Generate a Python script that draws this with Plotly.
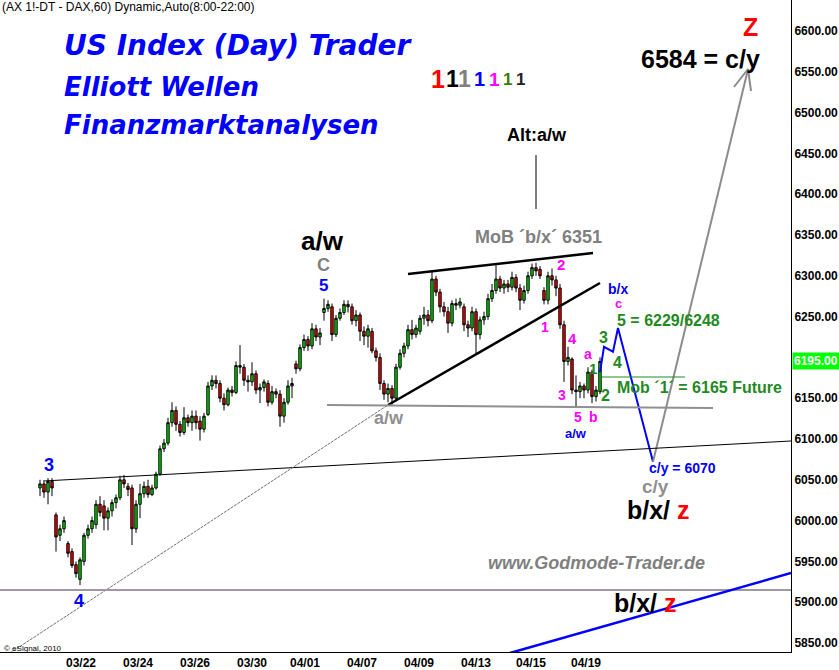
import plotly.graph_objects as go

# ---------------- data ----------------
bar_index = list(range(141))
opens = [6040, 6045, 6035, 6048, 6007, 5982, 5990, 5972, 5962, 5946,
         5928, 5950, 5982, 5990, 5995, 6020, 6018, 6003, 6012, 6022,
         6028, 6050, 6042, 6040, 5990, 6020, 6033, 6042, 6032, 6040,
         6057, 6088, 6095, 6120, 6135, 6118, 6108, 6126, 6120, 6128,
         6122, 6112, 6130, 6165, 6172, 6168, 6150, 6142, 6160, 6157,
         6190, 6188, 6172, 6170, 6180, 6160, 6163, 6168, 6145, 6158,
         6155, 6128, 6145, 6165, 6192, 6186, 6212, 6222, 6214, 6235,
         6225, 6255, 6260, 6262, 6228, 6248, 6255, 6265, 6262, 6245,
         6252, 6232, 6226, 6232, 6208, 6200, 6168, 6155, 6162, 6150,
         6188, 6205, 6214, 6234, 6228, 6232, 6248, 6252, 6245, 6296,
         6280, 6262, 6256, 6242, 6266, 6264, 6262, 6240, 6236, 6256,
         6228, 6246, 6250, 6272, 6282, 6296, 6285, 6290, 6286, 6298,
         6285, 6270, 6282, 6300, 6310, 6308, 6282, 6270, 6300, 6295,
         6285, 6240, 6195, 6198, 6160, 6158, 6165, 6160, 6182, 6152,
         6158]
highs = [6050, 6048, 6052, 6052, 6010, 5995, 6005, 5975, 5966, 5950,
         5955, 5985, 5995, 6005, 6025, 6030, 6025, 6016, 6026, 6032,
         6055, 6056, 6046, 6044, 6025, 6045, 6048, 6050, 6044, 6060,
         6092, 6100, 6126, 6145, 6140, 6122, 6139, 6130, 6135, 6135,
         6128, 6132, 6170, 6178, 6178, 6172, 6156, 6163, 6165, 6195,
         6215, 6192, 6178, 6194, 6184, 6168, 6173, 6172, 6165, 6162,
         6160, 6150, 6172, 6175, 6196, 6216, 6228, 6226, 6242, 6240,
         6236, 6272, 6270, 6266, 6252, 6260, 6270, 6270, 6266, 6258,
         6255, 6238, 6240, 6236, 6212, 6205, 6172, 6168, 6166, 6192,
         6210, 6218, 6240, 6246, 6240, 6252, 6262, 6258, 6305, 6300,
         6284, 6268, 6262, 6270, 6272, 6273, 6266, 6245, 6262, 6260,
         6250, 6256, 6278, 6290, 6313, 6300, 6295, 6295, 6305, 6302,
         6290, 6288, 6305, 6315, 6316, 6312, 6286, 6305, 6309, 6300,
         6290, 6245, 6213, 6200, 6178, 6170, 6168, 6188, 6185, 6165,
         6200]
lows = [6030, 6028, 6020, 6030, 5962, 5975, 5985, 5955, 5942, 5930,
        5921, 5945, 5978, 5985, 5990, 6005, 5988, 5988, 6005, 6015,
        6025, 6040, 6030, 5970, 5985, 6003, 6028, 6028, 6030, 6038,
        6055, 6084, 6092, 6115, 6110, 6103, 6105, 6115, 6110, 6112,
        6098, 6108, 6128, 6160, 6162, 6145, 6135, 6140, 6152, 6155,
        6180, 6165, 6158, 6165, 6155, 6144, 6158, 6140, 6142, 6150,
        6115, 6120, 6142, 6150, 6180, 6183, 6208, 6208, 6210, 6220,
        6215, 6245, 6256, 6220, 6225, 6245, 6252, 6255, 6240, 6238,
        6220, 6215, 6212, 6205, 6195, 6160, 6148, 6145, 6142, 6146,
        6185, 6200, 6210, 6222, 6224, 6228, 6240, 6238, 6242, 6275,
        6255, 6250, 6230, 6238, 6258, 6260, 6232, 6225, 6232, 6205,
        6222, 6240, 6246, 6268, 6278, 6280, 6278, 6280, 6282, 6280,
        6258, 6266, 6278, 6296, 6300, 6296, 6265, 6265, 6288, 6275,
        6235, 6170, 6190, 6155, 6140, 6150, 6150, 6156, 6144, 6146,
        6155]
closes = [6045, 6035, 6048, 6040, 5980, 5990, 6000, 5960, 5945, 5935,
          5952, 5982, 5990, 6000, 6020, 6010, 6003, 6012, 6022, 6028,
          6050, 6045, 6038, 5990, 6020, 6033, 6042, 6032, 6040, 6057,
          6088, 6095, 6120, 6135, 6118, 6108, 6126, 6120, 6128, 6120,
          6112, 6128, 6165, 6172, 6168, 6150, 6142, 6160, 6157, 6190,
          6188, 6172, 6170, 6180, 6160, 6163, 6170, 6145, 6158, 6155,
          6128, 6145, 6165, 6168, 6186, 6212, 6222, 6214, 6235, 6225,
          6230, 6260, 6265, 6228, 6248, 6255, 6265, 6262, 6245, 6252,
          6232, 6226, 6235, 6208, 6200, 6168, 6155, 6162, 6150, 6188,
          6205, 6214, 6234, 6228, 6236, 6248, 6252, 6245, 6296, 6280,
          6262, 6256, 6242, 6266, 6264, 6268, 6240, 6236, 6256, 6228,
          6246, 6250, 6272, 6282, 6296, 6285, 6290, 6286, 6298, 6285,
          6270, 6282, 6300, 6310, 6306, 6300, 6270, 6300, 6295, 6285,
          6240, 6195, 6200, 6160, 6158, 6165, 6160, 6182, 6152, 6160,
          6195]

tick_labels = ["03/22", "03/24", "03/26", "03/30", "04/01",
               "04/07", "04/09", "04/13", "04/15", "04/19"]
tick_bars = [10.25, 24.5, 38.75, 53, 66.25, 80.5, 94.75, 109, 122.75, 136.5]
# 6200 is hidden behind the current-price marker in the reference
price_ticks = [5850, 5900, 5950, 6000, 6050, 6100, 6150, 6250,
               6300, 6350, 6400, 6450, 6500, 6550, 6600]
last_price = 6195.0

# projected wave path (bar index, price)
proj_bars = [140, 141, 143.25, 144.5, 153.25]
proj_prices = [6182, 6213, 6207, 6236, 6072]
target_bars = [153.25, 177]
target_prices = [6072, 6553]

# ---------------- helpers: reference pixel -> data ----------------
def X(px):
    return (px - 40) / 4.0

def Y(py):
    return 6600 - (py - 31) / 0.816

fig = go.Figure()
fig.add_trace(go.Candlestick(
    x=bar_index, open=opens, high=highs, low=lows, close=closes,
    increasing=dict(line=dict(color="black", width=1), fillcolor="#00dd00"),
    decreasing=dict(line=dict(color="black", width=1), fillcolor="#ff0000"),
    whiskerwidth=0, hoverinfo="skip", showlegend=False))

# projection lines
fig.add_trace(go.Scatter(x=proj_bars, y=proj_prices, mode="lines",
                         line=dict(color="#0000ff", width=2), showlegend=False, hoverinfo="skip"))
fig.add_trace(go.Scatter(x=target_bars, y=target_prices, mode="lines",
                         line=dict(color="#8c8c8c", width=2), showlegend=False, hoverinfo="skip"))
# arrow head
fig.add_trace(go.Scatter(x=[X(734), X(748), X(751)], y=[Y(87), Y(69), Y(91)], mode="lines",
                         line=dict(color="#8c8c8c", width=2), showlegend=False, hoverinfo="skip"))

shapes = []
def seg(x0, y0, x1, y1, color, width, dash=None):
    d = dict(type="line", xref="x", yref="y", x0=X(x0), y0=Y(y0), x1=X(x1), y1=Y(y1),
             line=dict(color=color, width=width))
    if dash:
        d["line"]["dash"] = dash
    shapes.append(d)

seg(43, 481, 791, 441, "black", 1)                 # wave-3 line
seg(10, 653, 388, 405, "#707070", 1, "3px,1px")    # thin gray trend
seg(388, 405, 600, 283, "black", 2.5)              # lower wedge line
seg(408, 274, 593, 253, "black", 2.5)              # upper wedge line
seg(327, 405, 713, 408, "#909090", 2)              # a/w horizontal
seg(0, 590, 791, 590, "#a098a0", 2)                # bottom horizontal
seg(510, 653, 791, 573, "#0000ff", 2.5)            # bottom blue line
seg(536, 155, 536, 209, "black", 1)                # Alt marker
seg(602, 377, 685, 377, "#1f8a1f", 1)              # Mob 1 line

ann = []
AR = "Liberation Sans, Arial, sans-serif"
def txt(t, cx, cy, size, color, bold=True, italic=False, family=AR, anchor="center"):
    ann.append(dict(text=t, x=X(cx), y=Y(cy), xref="x", yref="y", showarrow=False,
                    xanchor=anchor, yanchor="middle",
                    font=dict(size=size, color=color, family=family,
                              weight="bold" if bold else "normal",
                              style="italic" if italic else "normal")))

DV = "DejaVu Sans, sans-serif"
txt("US Index (Day) Trader", 62, 45, 28, "#0000ff", italic=True, family=DV, anchor="left")
txt("Elliott Wellen", 62, 87, 26, "#0000ff", italic=True, family=DV, anchor="left")
txt("Finanzmarktanalysen", 62, 125, 26, "#0000ff", italic=True, family=DV, anchor="left")

for t, cx, size, col in [("1", 438, 25, "#ff0000"), ("1", 452, 23, "#000000"),
                         ("1", 464, 23, "#808080"), ("1", 479, 20, "#0000ff"),
                         ("1", 494, 19, "#ff00ff"), ("1", 507, 17, "#3c7a00"),
                         ("1", 520, 17, "#222222")]:
    txt(t, cx, 79, size, col)

txt("Alt:a/w", 537, 135, 18, "black")
txt("MoB \u00b4b/x\u00b4 6351", 538, 237, 18, "#808080")
txt("a/w", 322, 241, 26, "black")
txt("C", 323, 265, 18, "#808080")
txt("5", 323, 285, 17, "#0000ff")
txt("3", 49, 465, 18, "#0000ff")
txt("4", 79, 601, 18, "#0000ff")
txt("a/w", 389, 418, 18, "#909090")

MG = "#ff00ff"
txt("2", 561, 264, 15, MG)
txt("1", 545, 327, 14, MG)
txt("4", 572, 338, 15, MG)
txt("3", 562, 395, 14, MG)
txt("a", 588, 354, 14, MG)
txt("5", 578, 417, 14, MG)
txt("b", 593, 417, 14, MG)
txt("a/w", 576, 433, 13, "#0000ff")
txt("b/x", 618, 289, 14, "#0000ff")
txt("c", 618, 303, 13, MG)

GR = "#1f8a1f"
txt("1", 593, 368, 15, GR)
txt("2", 605, 395, 16, GR)
txt("3", 603, 337, 16, GR)
txt("4", 617, 362, 16, GR)
txt("5 = 6229/6248", 615, 320, 16, GR, anchor="left")
txt("Mob \u00b41\u00b4 = 6165 Future", 615, 387, 16, GR, anchor="left")
txt("c/y = 6070", 647, 468, 14, "#0000ff", anchor="left")
txt("c/y", 655, 486, 19, "#909090")
txt("b/x/ <span style='color:#ff0000'>z</span>", 658, 510, 25, "black")
txt("6584 = c/y", 700, 59, 25, "black")
txt("Z", 750, 27, 25, "#ff0000")
txt("www.Godmode-Trader.de", 596, 563, 18, "#7f7f7f", italic=True)
txt("b/x/ <span style='color:#ff0000'>z</span>", 645, 603, 25, "black")
txt("\u00a9 eSignal, 2010", 2, 648, 8, "black", bold=False, anchor="left")
txt("(AX 1!-DT - DAX,60) Dynamic,Auto(8:00-22:00)", 0, 7, 12, "black", bold=False, anchor="left")

# current price marker on the price axis
ann.append(dict(text="<b>6195.00</b>", x=1, xref="paper", xanchor="left", xshift=1,
                y=last_price, yref="y", yanchor="middle", showarrow=False,
                bgcolor="#00ff00", borderpad=1,
                font=dict(size=12, color="white", family=AR)))

fig.update_layout(
    width=839, height=670, template="none",
    margin=dict(l=0, r=48, t=0, b=18, pad=0),
    paper_bgcolor="white", plot_bgcolor="white",
    showlegend=False, shapes=shapes, annotations=ann, boxgap=0.15,
    xaxis=dict(range=[X(0), X(791)], showgrid=False, zeroline=False,
               showline=True, linecolor="black", linewidth=1, ticks="",
               tickvals=tick_bars, ticktext=tick_labels, automargin=False,
               tickfont=dict(size=12, color="black", family=AR, weight="bold"),
               rangeslider=dict(visible=False), fixedrange=True),
    yaxis=dict(range=[Y(652), Y(0)], side="right", showgrid=False, zeroline=False,
               showline=True, linecolor="black", linewidth=1, ticks="",
               tickvals=price_ticks, tickformat=".2f", automargin=False,
               tickfont=dict(size=12, color="black", family=AR, weight="bold"),
               fixedrange=True),
)

fig.write_html("out.html", config={"displayModeBar": False},
               post_script="document.body.style.margin='0px';document.body.style.overflow='hidden';")
